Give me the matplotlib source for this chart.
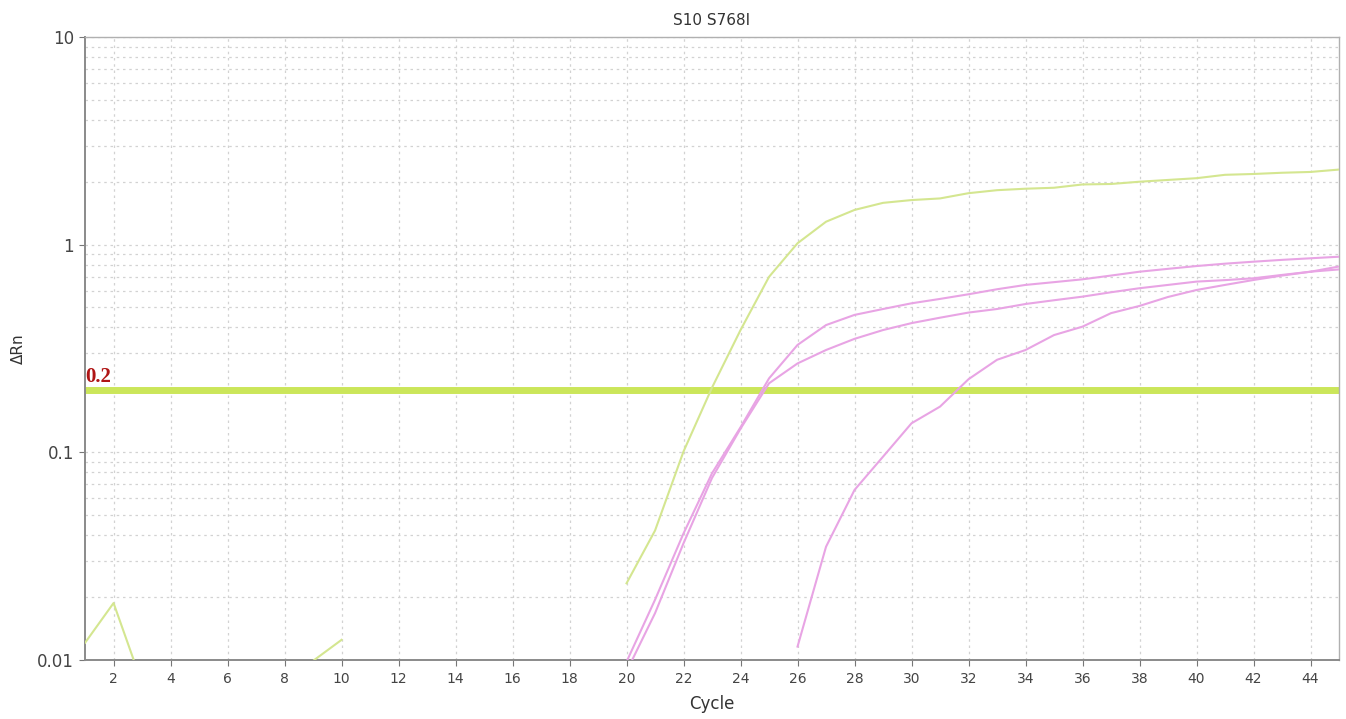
import numpy as np
import matplotlib
matplotlib.use("Agg")
import matplotlib.pyplot as plt
from matplotlib.ticker import FixedLocator, FixedFormatter, LogLocator, NullFormatter

nan = np.nan

cycles = list(range(1, 46))

# Amplification curves (delta Rn per cycle); NaN marks non-positive readings
green_curve = [0.0121, 0.0188, 0.0077, 0.005, 0.004, 0.004, 0.005, 0.006, 0.0099, 0.0125,
               nan, nan, nan, nan, nan, nan, nan, nan, nan,
               0.0234, 0.042, 0.101, 0.205, 0.388, 0.70, 1.016, 1.29, 1.47, 1.59, 1.64,
               1.67, 1.77, 1.83, 1.86, 1.88, 1.95, 1.96, 2.01, 2.05, 2.09,
               2.17, 2.19, 2.22, 2.24, 2.30]

pink_a = [nan] * 19 + [0.0098, 0.0195, 0.0407, 0.0793, 0.132, 0.227, 0.329, 0.410, 0.459,
                       0.490, 0.522, 0.548, 0.577, 0.61, 0.640, 0.66, 0.681, 0.71, 0.741,
                       0.765, 0.789, 0.81, 0.828, 0.845, 0.860, 0.875]

pink_b = [nan] * 19 + [0.0088, 0.0168, 0.0365, 0.0753, 0.130, 0.215, 0.268, 0.311, 0.352,
                       0.388, 0.419, 0.445, 0.471, 0.49, 0.518, 0.54, 0.562, 0.59, 0.617,
                       0.64, 0.664, 0.675, 0.689, 0.715, 0.741, 0.760]

pink_c = [nan] * 25 + [0.0116, 0.0351, 0.0659, 0.0953, 0.138, 0.166, 0.225, 0.279, 0.311,
                       0.367, 0.403, 0.468, 0.507, 0.56, 0.605, 0.64, 0.676, 0.71, 0.741,
                       0.785]

threshold = 0.2

x_ticks = list(range(2, 45, 2))
y_ticks = [0.01, 0.1, 1, 10]
y_tick_labels = ["0.01", "0.1", "1", "10"]

fig = plt.figure(figsize=(13.46, 7.19), dpi=100)
ax = fig.add_axes([0.0632, 0.0821, 0.9316, 0.8664])

ax.set_yscale("log")
ax.set_xlim(1, 45)
ax.set_ylim(0.01, 10)

grid_kw = dict(color="#d2d2d2", linewidth=0.9, linestyle=(0, (2, 3)))
ax.yaxis.set_minor_locator(LogLocator(base=10, subs=np.arange(2, 10)))
ax.yaxis.set_minor_formatter(NullFormatter())
ax.grid(True, which="major", axis="both", **grid_kw)
ax.grid(True, which="minor", axis="y", **grid_kw)
ax.set_axisbelow(True)

ax.xaxis.set_major_locator(FixedLocator(x_ticks))
ax.yaxis.set_major_locator(FixedLocator(y_ticks))
ax.yaxis.set_major_formatter(FixedFormatter(y_tick_labels))
ax.tick_params(axis="both", which="major", length=4, width=0.8, color="#777777",
               labelcolor="#444444")
ax.tick_params(axis="x", pad=5, labelsize=10)
ax.tick_params(axis="y", pad=4, labelsize=12)
ax.tick_params(axis="y", which="minor", length=0)

ax.axhline(threshold, color="#cbe65a", linewidth=5, zorder=2)
ax.text(1.0, threshold * 1.035, "0.2", color="#b01515", fontsize=15,
        fontweight="bold", family="Liberation Serif", va="bottom", ha="left", zorder=5)

ax.plot(cycles, green_curve, color="#d4e690", linewidth=1.5, zorder=3)
for series in (pink_a, pink_b, pink_c):
    ax.plot(cycles, series, color="#e8a4e4", linewidth=1.5, zorder=3)

for side in ("left", "bottom"):
    ax.spines[side].set_color("#8a8a8a")
    ax.spines[side].set_linewidth(1.4)
for side in ("top", "right"):
    ax.spines[side].set_color("#b0b0b0")
    ax.spines[side].set_linewidth(1.0)

ax.set_title("S10 S768I", fontsize=11, color="#333333", pad=9)
ax.set_xlabel("Cycle", fontsize=12, color="#333333", labelpad=6)
ax.set_ylabel("ΔRn", fontsize=11, color="#333333", labelpad=8)

fig.savefig("out.png", dpi=100)
